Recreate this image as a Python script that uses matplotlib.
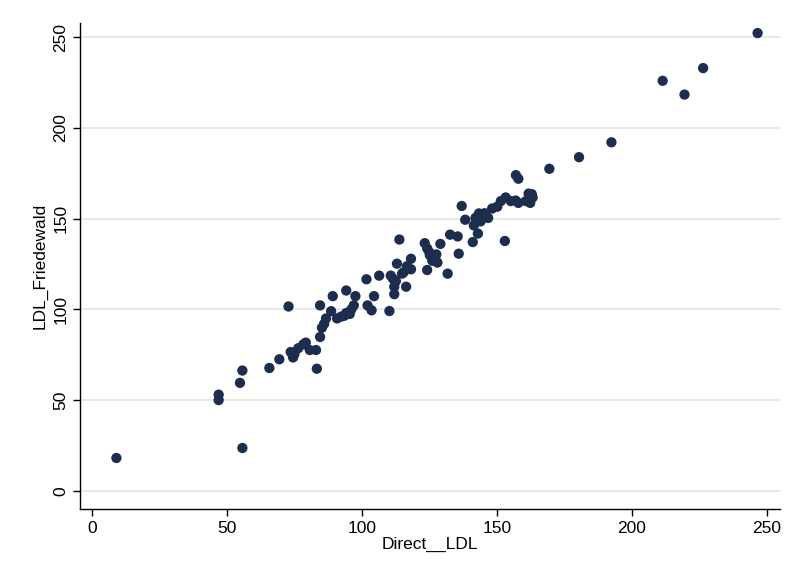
import matplotlib
matplotlib.use("Agg")
import matplotlib.pyplot as plt

direct_ldl = [9.0, 46.9, 46.9, 54.8, 55.7, 55.7, 65.7, 69.4, 72.8, 73.6, 74.5, 76.4, 78.3, 79.2,
              80.7, 83.0, 83.3, 84.5, 84.5, 85.2, 86.7, 88.6, 89.2, 90.8, 92.3, 94.2, 94.2, 96.1,
              97.0, 97.6, 101.7, 102.1, 103.6, 104.5, 106.4, 110.2, 110.7, 112.0, 112.0, 112.6,
              113.0, 113.9, 114.9, 116.4, 116.7, 118.2, 118.2, 123.3, 124.2, 124.2, 125.2, 126.1,
              127.6, 128.0, 129.1, 131.8, 132.7, 135.5, 135.9, 137.0, 138.3, 141.1, 141.5, 142.1,
              143.0, 143.4, 144.9, 146.8, 148.3, 150.2, 151.5, 153.0, 153.3, 155.2, 157.1, 158.0,
              158.0, 160.8, 161.8, 162.4, 163.3, 169.5, 180.5, 192.5, 211.5, 219.6, 226.5, 246.7,
              93.5, 95.5, 111.5, 115.5, 125.0, 144.0, 145.5, 157.0, 162.0, 163.0, 75.0, 86.0]
ldl_friedewald = [18.1, 53.0, 50.0, 59.5, 66.3, 23.6, 67.7, 72.5, 101.6, 76.5, 73.5, 78.6, 80.7, 81.7,
                  77.6, 77.6, 67.3, 84.8, 102.2, 89.9, 95.0, 99.0, 107.3, 95.0, 96.0, 110.4, 98.0, 100.0,
                  102.2, 107.3, 116.6, 102.2, 99.5, 107.3, 118.6, 99.1, 118.6, 112.5, 108.4, 115.6,
                  125.2, 138.5, 119.7, 112.5, 123.8, 127.9, 122.1, 136.5, 133.6, 121.7, 129.9, 126.8,
                  130.3, 125.8, 136.1, 119.7, 141.2, 140.2, 130.7, 157.0, 149.4, 137.1, 146.3, 150.4,
                  141.8, 152.9, 151.9, 150.4, 155.6, 156.6, 159.7, 137.7, 161.7, 159.7, 174.0, 172.0,
                  158.7, 159.7, 163.8, 158.7, 161.7, 177.5, 183.9, 192.1, 226.0, 218.4, 233.0, 252.3,
                  96.5, 97.5, 117.0, 120.5, 131.5, 148.5, 153.0, 160.0, 160.5, 163.5, 75.5, 92.0]

x_ticks = [0, 50, 100, 150, 200, 250]
y_ticks = [0, 50, 100, 150, 200, 250]

plt.rcParams['font.family'] = ['Liberation Sans', 'DejaVu Sans']

fig = plt.figure(figsize=(8, 5.83), dpi=100)
ax = fig.add_axes([0.1, 0.127, 0.875, 0.834])

ax.scatter(direct_ldl, ldl_friedewald, s=55, color='#1c2d4e', edgecolors='none', zorder=3)

ax.set_xlim(-4.5, 255)
ax.set_ylim(-10, 258)
ax.set_xticks(x_ticks)
ax.set_yticks(y_ticks)
ax.yaxis.grid(True, color='#e4e4e4', linewidth=1.2)
ax.set_axisbelow(True)
for s in ['top', 'right']:
    ax.spines[s].set_visible(False)
for s in ['left', 'bottom']:
    ax.spines[s].set_linewidth(1.0)
    ax.spines[s].set_color('black')
ax.tick_params(direction='out', length=5, width=1, labelsize=12.5, colors='black')
for lbl in ax.get_yticklabels():
    lbl.set_rotation(90)
    lbl.set_va('center')
ax.set_xlabel('Direct__LDL', fontsize=12.5, labelpad=1)
ax.set_ylabel('LDL_Friedewald', fontsize=12.5, labelpad=4)

fig.savefig('out.png', dpi=100)
